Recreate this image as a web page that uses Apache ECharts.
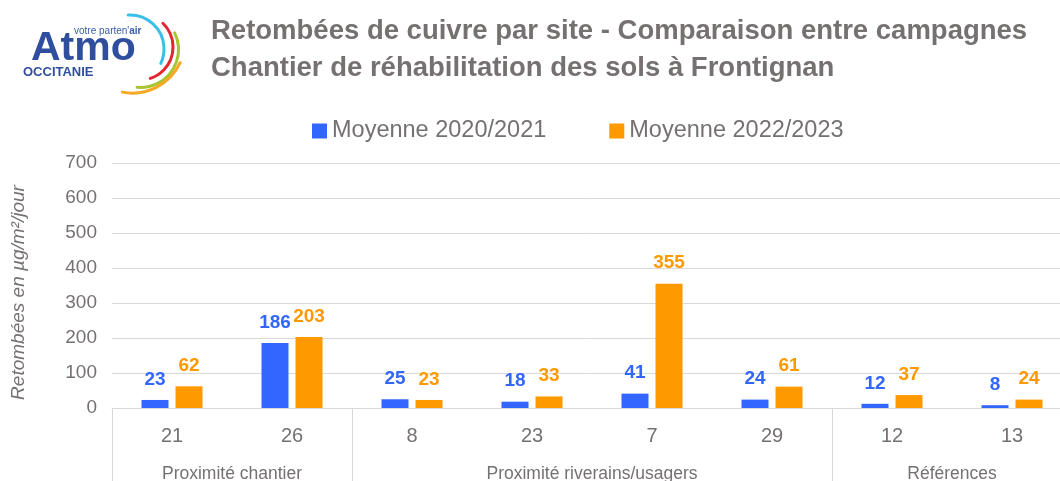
<!DOCTYPE html>
<html>
<head>
<meta charset="utf-8">
<script src="https://cdn.jsdelivr.net/npm/echarts@6/dist/echarts.min.js"></script>
<style>
html,body{margin:0;padding:0;background:#fff;}
#chart{width:1060px;height:481px;}
</style>
</head>
<body>
<div id="chart"></div>
<script>
// ---- data ----
const sites = ['21', '26', '8', '23', '7', '29', '12', '13'];
const seriesNames = ['Moyenne 2020/2021', 'Moyenne 2022/2023'];
const moy2020_2021 = [23, 186, 25, 18, 41, 24, 12, 8];
const moy2022_2023 = [62, 203, 23, 33, 355, 61, 37, 24];
const groupNames = ['Proximité chantier', 'Proximité riverains/usagers', 'Références'];
const groupSizes = [2, 4, 2];
const yMin = 0, yMax = 700, yStep = 100;
const titleLines = ['Retombées de cuivre par site - Comparaison entre campagnes',
                    'Chantier de réhabilitation des sols à Frontignan'];
const yName = 'Retombées en µg/m²/jour';

// ---- derived group positions ----
const bounds = [0];
groupSizes.forEach(s => bounds.push(bounds[bounds.length - 1] + s));
const centers = groupSizes.map((s, i) => bounds[i] + s / 2);

const GRAY = '#767171';
const FONT = '"Liberation Sans", Arial, sans-serif';
const BLUE = '#3366FF', ORANGE = '#FF9900';

const chart = echarts.init(document.getElementById('chart'), null, {renderer: 'canvas'});

const labelStyle = (c) => ({
  show: true, position: 'top', distance: 11,
  color: c, fontFamily: FONT, fontWeight: 'bold', fontSize: 19
});

chart.setOption({
  backgroundColor: '#ffffff',
  animation: false,
  title: {
    text: titleLines.join('\n'),
    left: 206, top: 8,
    textStyle: {color: GRAY, fontFamily: FONT, fontWeight: 'bold', fontSize: 27.5, lineHeight: 37}
  },
  legend: {
    left: 307, top: 114,
    itemWidth: 15, itemHeight: 15, itemGap: 63,
    icon: 'rect',
    textStyle: {color: GRAY, fontFamily: FONT, fontSize: 23.5},
    data: seriesNames
  },
  grid: {left: 112, top: 163, width: 960, height: 245, containLabel: false, outerBoundsMode: 'none'},
  xAxis: [{
    type: 'category', data: sites,
    axisLine: {show: true, lineStyle: {color: '#d9d9d9', width: 1}},
    axisTick: {show: false},
    axisLabel: {color: GRAY, fontFamily: FONT, fontSize: 20, margin: 18}
  }, {
    type: 'value', min: bounds[0], max: bounds[bounds.length - 1], position: 'bottom',
    axisLine: {show: false},
    splitLine: {show: false},
    axisTick: {show: true, customValues: bounds, length: 80, lineStyle: {color: '#d9d9d9', width: 1}},
    axisLabel: {
      show: true, customValues: centers, margin: 57,
      color: GRAY, fontFamily: FONT, fontSize: 17.5,
      formatter: (v) => { const i = centers.indexOf(v); return i >= 0 ? groupNames[i] : ''; }
    }
  }],
  yAxis: {
    type: 'value', min: yMin, max: yMax, interval: yStep,
    name: yName, nameLocation: 'middle', nameGap: 84, nameRotate: 90,
    nameTextStyle: {color: GRAY, fontFamily: FONT, fontSize: 19, fontStyle: 'italic', padding: [0, 14, 0, 0]},
    axisLine: {show: false}, axisTick: {show: false},
    axisLabel: {color: GRAY, fontFamily: FONT, fontSize: 19, margin: 15},
    splitLine: {lineStyle: {color: '#d9d9d9', width: 1}}
  },
  series: [{
    name: seriesNames[0], type: 'bar', xAxisIndex: 0, data: moy2020_2021,
    barWidth: 27, barGap: '26%', itemStyle: {color: BLUE},
    label: labelStyle(BLUE)
  }, {
    name: seriesNames[1], type: 'bar', xAxisIndex: 0, data: moy2022_2023,
    barWidth: 27, barGap: '26%', itemStyle: {color: ORANGE},
    label: labelStyle(ORANGE)
  }],
  graphic: [
    {type: 'text', left: 31, top: 28, style: {text: 'Atmo', fill: '#2f4f9e', font: 'bold 41px "Liberation Sans", Arial, sans-serif'}},
    {type: 'text', left: 74, top: 26, style: {
      text: "{a|votre parten'}{b|air}",
      rich: {
        a: {fill: '#3a5bab', fontSize: 10, fontFamily: FONT},
        b: {fill: '#3a5bab', fontSize: 10, fontFamily: FONT, fontWeight: 'bold'}
      }}},
    {type: 'text', left: 23, top: 66, style: {text: 'OCCITANIE', fill: '#2f4f9e', font: 'bold 13px "Liberation Sans", Arial, sans-serif'}},
    {type: 'arc', shape: {cx: 130, cy: 49, r: 34, startAngle: -93 * Math.PI / 180, endAngle: 25 * Math.PI / 180, clockwise: true},
     style: {stroke: '#3bbfe8', lineWidth: 3, fill: null, lineCap: 'round'}},
    {type: 'arc', shape: {cx: 140, cy: 47, r: 33, startAngle: -46 * Math.PI / 180, endAngle: 72 * Math.PI / 180, clockwise: true},
     style: {stroke: '#e3262f', lineWidth: 3, fill: null, lineCap: 'round'}},
    {type: 'arc', shape: {cx: 140.5, cy: 49.5, r: 38, startAngle: -26 * Math.PI / 180, endAngle: 95 * Math.PI / 180, clockwise: true},
     style: {stroke: '#a8c431', lineWidth: 3, fill: null, lineCap: 'round'}},
    {type: 'arc', shape: {cx: 132.5, cy: 40.5, r: 52.6, startAngle: 25 * Math.PI / 180, endAngle: 101 * Math.PI / 180, clockwise: true},
     style: {stroke: '#f7a823', lineWidth: 3, fill: null, lineCap: 'round'}}
  ]
});
</script>
</body>
</html>
